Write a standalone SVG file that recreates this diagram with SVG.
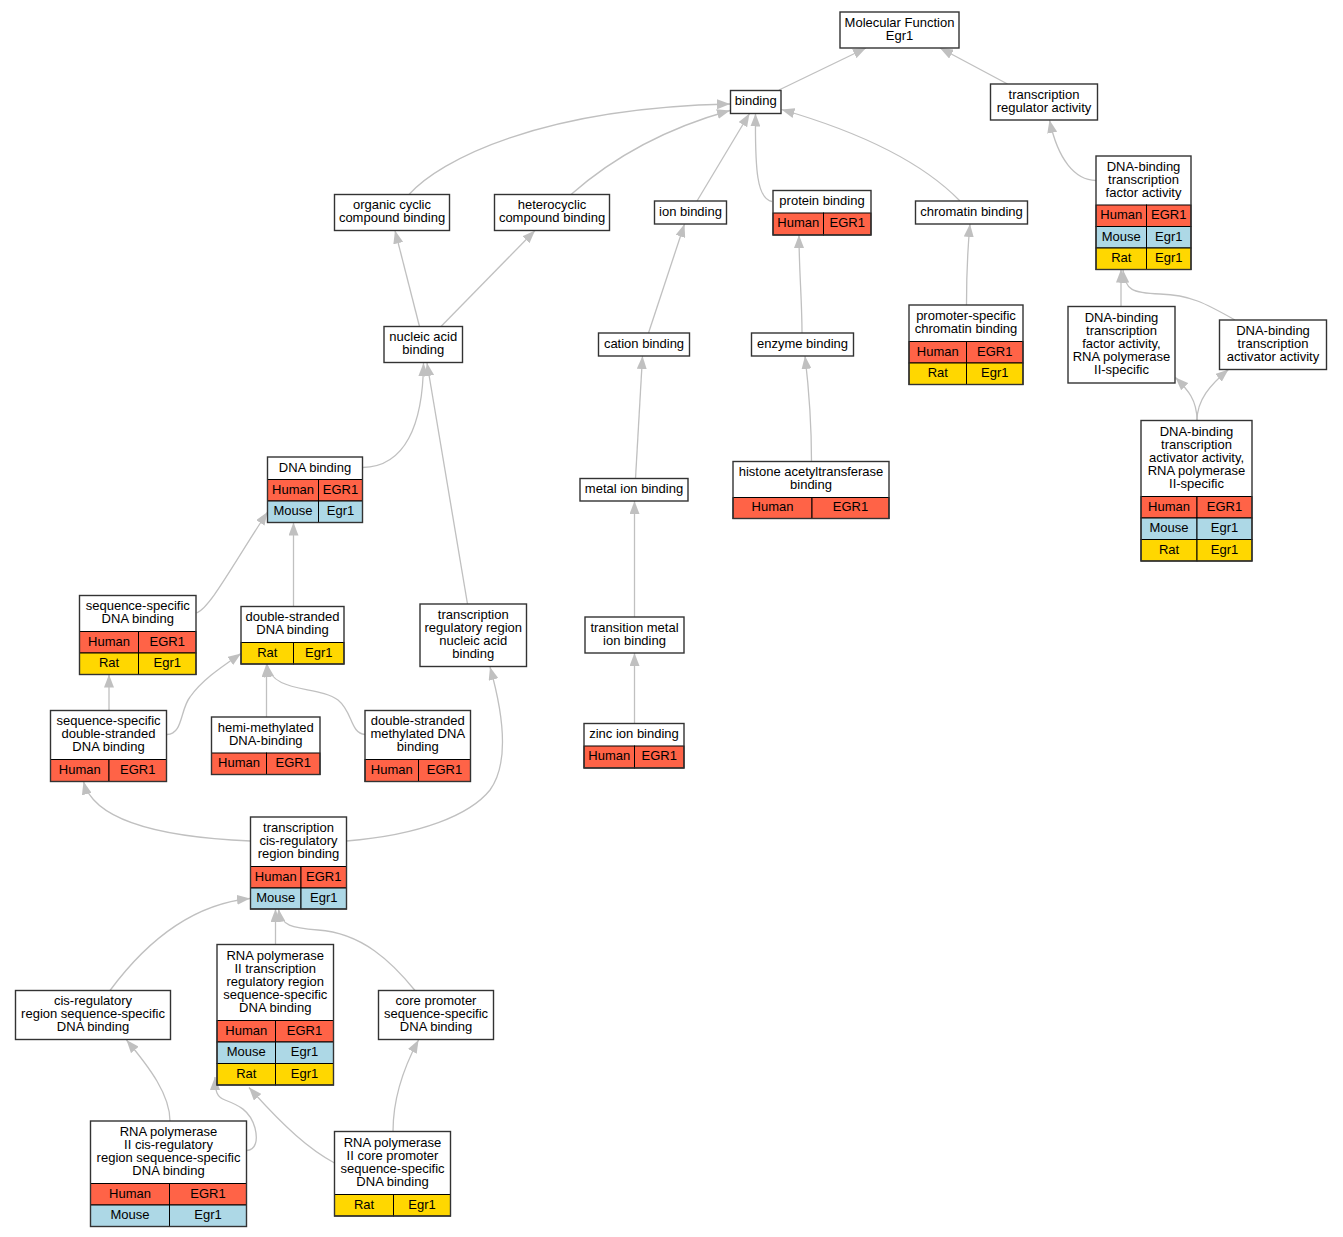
<svg xmlns="http://www.w3.org/2000/svg" width="1343" height="1237" viewBox="0 0 1343 1237">
<defs>
<style>
text{font-family:"Liberation Sans",Arial,sans-serif;font-size:13px;text-anchor:middle;fill:#000}
.bg{fill:#fff;stroke:none}
.b{fill:none;stroke:#333;stroke-width:1.4}
.w{fill:#fff;stroke:#333;stroke-width:1.4}
.hu{fill:#ff6347;stroke:#000;stroke-width:1}
.mo{fill:#add8e6;stroke:#000;stroke-width:1}
.ra{fill:#ffd700;stroke:#000;stroke-width:1}
.e path{fill:none;stroke:#c0c0c0;stroke-width:1.3;marker-end:url(#ah)}
</style>
<marker id="ah" viewBox="0 0 13 10" markerWidth="13" markerHeight="10" refX="13" refY="5" orient="auto" markerUnits="userSpaceOnUse">
<path d="M0,0 L13,5 L0,10 z" fill="#c0c0c0"/>
</marker>
</defs>
<rect x="0" y="0" width="1343" height="1237" fill="#fff"/>
<g id="edges" class="e">
<path d="M779,90 L866,48"/>
<path d="M1007.5,84 L940,48"/>
<path d="M409,194.5 C440,160 540,108 730,104"/>
<path d="M571,194.5 C610,160 660,130 730,110.5"/>
<path d="M697,201 L749.5,113.5"/>
<path d="M772,201.5 C757,199 755,170 755.5,113.5"/>
<path d="M960,201 C925,165 870,135 781.5,109.5"/>
<path d="M1096,180.5 C1075,180 1058,160 1049.5,120"/>
<path d="M419.5,326.5 L395,230.5"/>
<path d="M441,326.5 L535,230.5"/>
<path d="M648.5,333 L684.5,224"/>
<path d="M802,333 C802,300 799,270 799,235"/>
<path d="M966.5,305 C966.5,270 968,245 970,224"/>
<path d="M1121,306.5 L1121,269.5"/>
<path d="M1235,320 C1205,303 1190,295 1160,294 C1132,293 1125,290 1123,270"/>
<path d="M1197,420.5 C1197,400 1188,390 1175.5,377.5"/>
<path d="M1197,420.5 C1197,400 1210,385 1228.5,369.5"/>
<path d="M362.5,467.5 C405,467 423,425 423.5,363"/>
<path d="M467.5,604 L427,363"/>
<path d="M196.5,613 C210,608 232,566 267.5,512"/>
<path d="M293.5,606.5 L293.5,522.5"/>
<path d="M109,710.5 L109,674.5"/>
<path d="M167,734.5 C183,734 180,710 190,697 C202,680 220,668 241,653.5"/>
<path d="M266.5,717 L266.5,664"/>
<path d="M365,734.5 C350,733 353,712 338,700 C318,685 272,694 267,664"/>
<path d="M250.5,841 C180,838 95,826 83.5,781.5"/>
<path d="M346.5,841 C420,835 470,815 490,790 C508,765 505,720 490,667"/>
<path d="M110,990.5 C140,950 185,905 250,898.5"/>
<path d="M275.5,944.5 L275.5,909"/>
<path d="M415,990.5 C392,962 362,933 318,930 C292,928 281,926 278.5,909"/>
<path d="M170,1121 C170,1095 150,1068 126.5,1040"/>
<path d="M246.5,1150.5 C256,1150 258,1140 255,1128 C250,1110 238,1105 225,1100 C217,1097 215,1092 215,1077"/>
<path d="M334.5,1163 C310,1150 285,1128 249,1087.5"/>
<path d="M393,1131.5 C393,1095 405,1065 418.5,1040"/>
<path d="M635.5,478.5 L642.5,356"/>
<path d="M634.5,617 L634.5,501"/>
<path d="M634.5,723.5 L634.5,653"/>
<path d="M811.5,461.5 C811.5,420 809,390 805,356"/>
</g>

<g id="n_mf"><rect class="w" x="840" y="12" width="119" height="36"/><text x="899.5" y="26.9">Molecular Function</text><text x="899.5" y="39.9">Egr1</text></g>
<g id="n_binding"><rect class="w" x="730.5" y="90.5" width="50.5" height="23"/><text x="755.75" y="105.4">binding</text></g>
<g id="n_tra"><rect class="w" x="990.5" y="84" width="107" height="36"/><text x="1044" y="98.9">transcription</text><text x="1044" y="111.9">regulator activity</text></g>
<g id="n_occb"><rect class="w" x="334.5" y="194.5" width="115" height="36"/><text x="392" y="209.4">organic cyclic</text><text x="392" y="222.4">compound binding</text></g>
<g id="n_hcb"><rect class="w" x="494.5" y="194.5" width="115" height="36"/><text x="552" y="209.4">heterocyclic</text><text x="552" y="222.4">compound binding</text></g>
<g id="n_ion"><rect class="w" x="654.5" y="201" width="72" height="23"/><text x="690.5" y="215.9">ion binding</text></g>
<g id="n_protein"><rect class="bg" x="773" y="190.5" width="98" height="44.5"/><text x="822" y="205.2">protein binding</text>
<rect class="hu" x="773" y="213" width="50.5" height="22"/><rect class="hu" x="823.5" y="213" width="47.5" height="22"/>
<text x="798.25" y="227.4">Human</text><text x="847.25" y="227.4">EGR1</text><rect class="b" x="773" y="190.5" width="98" height="44.5"/></g>
<g id="n_chromatin"><rect class="w" x="915.5" y="201" width="112" height="23"/><text x="971.5" y="215.9">chromatin binding</text></g>
<g id="n_dbtfa"><rect class="bg" x="1096" y="156" width="95" height="113.5"/><text x="1143.5" y="170.9">DNA-binding</text><text x="1143.5" y="183.9">transcription</text><text x="1143.5" y="196.9">factor activity</text>
<rect class="hu" x="1096" y="205" width="50.5" height="21.5"/><rect class="hu" x="1146.5" y="205" width="44.5" height="21.5"/>
<rect class="mo" x="1096" y="226.5" width="50.5" height="21.5"/><rect class="mo" x="1146.5" y="226.5" width="44.5" height="21.5"/>
<rect class="ra" x="1096" y="248" width="50.5" height="21.5"/><rect class="ra" x="1146.5" y="248" width="44.5" height="21.5"/>
<text x="1121.25" y="219.2">Human</text><text x="1168.75" y="219.2">EGR1</text>
<text x="1121.25" y="240.7">Mouse</text><text x="1168.75" y="240.7">Egr1</text>
<text x="1121.25" y="262.2">Rat</text><text x="1168.75" y="262.2">Egr1</text>
<rect class="b" x="1096" y="156" width="95" height="113.5"/></g>
<g id="n_nab"><rect class="w" x="384" y="326.5" width="78.5" height="36"/><text x="423.25" y="341.4">nucleic acid</text><text x="423.25" y="354.4">binding</text></g>
<g id="n_cation"><rect class="w" x="598.5" y="333" width="91" height="23"/><text x="644" y="347.9">cation binding</text></g>
<g id="n_enzyme"><rect class="w" x="751.5" y="333" width="102" height="23"/><text x="802.5" y="347.9">enzyme binding</text></g>
<g id="n_pscb"><rect class="bg" x="909" y="305" width="114" height="79.5"/><text x="966" y="320.2">promoter-specific</text><text x="966" y="333.2">chromatin binding</text>
<rect class="hu" x="909" y="341.5" width="57.5" height="21.5"/><rect class="hu" x="966.5" y="341.5" width="56.5" height="21.5"/>
<rect class="ra" x="909" y="363" width="57.5" height="21.5"/><rect class="ra" x="966.5" y="363" width="56.5" height="21.5"/>
<text x="937.75" y="355.7">Human</text><text x="994.75" y="355.7">EGR1</text>
<text x="937.75" y="377.2">Rat</text><text x="994.75" y="377.2">Egr1</text>
<rect class="b" x="909" y="305" width="114" height="79.5"/></g>
<g id="n_dbtfa2"><rect class="w" x="1068" y="306.5" width="107" height="76.5"/><text x="1121.5" y="322.2">DNA-binding</text><text x="1121.5" y="335.2">transcription</text><text x="1121.5" y="348.2">factor activity,</text><text x="1121.5" y="361.2">RNA polymerase</text><text x="1121.5" y="374.2">II-specific</text></g>
<g id="n_dbtaa"><rect class="w" x="1219.5" y="320" width="107" height="49.5"/><text x="1273" y="335.2">DNA-binding</text><text x="1273" y="348.2">transcription</text><text x="1273" y="361.2">activator activity</text></g>
<g id="n_dbtaa2"><rect class="bg" x="1141" y="420.5" width="111" height="140.5"/><text x="1196.5" y="435.9">DNA-binding</text><text x="1196.5" y="448.9">transcription</text><text x="1196.5" y="461.9">activator activity,</text><text x="1196.5" y="474.9">RNA polymerase</text><text x="1196.5" y="487.9">II-specific</text>
<rect class="hu" x="1141" y="496.5" width="56" height="21.5"/><rect class="hu" x="1197" y="496.5" width="55" height="21.5"/>
<rect class="mo" x="1141" y="518" width="56" height="21.5"/><rect class="mo" x="1197" y="518" width="55" height="21.5"/>
<rect class="ra" x="1141" y="539.5" width="56" height="21.5"/><rect class="ra" x="1197" y="539.5" width="55" height="21.5"/>
<text x="1169" y="510.7">Human</text><text x="1224.5" y="510.7">EGR1</text>
<text x="1169" y="532.2">Mouse</text><text x="1224.5" y="532.2">Egr1</text>
<text x="1169" y="553.7">Rat</text><text x="1224.5" y="553.7">Egr1</text>
<rect class="b" x="1141" y="420.5" width="111" height="140.5"/></g>
<g id="n_dna"><rect class="bg" x="267.5" y="457" width="95" height="65.5"/><text x="315" y="471.6">DNA binding</text>
<rect class="hu" x="267.5" y="479.5" width="51" height="21.5"/><rect class="hu" x="318.5" y="479.5" width="44" height="21.5"/>
<rect class="mo" x="267.5" y="501" width="51" height="21.5"/><rect class="mo" x="318.5" y="501" width="44" height="21.5"/>
<text x="293" y="493.7">Human</text><text x="340.5" y="493.7">EGR1</text>
<text x="293" y="515.2">Mouse</text><text x="340.5" y="515.2">Egr1</text>
<rect class="b" x="267.5" y="457" width="95" height="65.5"/></g>
<g id="n_ssdna"><rect class="bg" x="79.5" y="595.5" width="116.5" height="79"/><text x="137.75" y="610.4">sequence-specific</text><text x="137.75" y="623.4">DNA binding</text>
<rect class="hu" x="79.5" y="631.5" width="59" height="21.5"/><rect class="hu" x="138.5" y="631.5" width="57.5" height="21.5"/>
<rect class="ra" x="79.5" y="653" width="59" height="21.5"/><rect class="ra" x="138.5" y="653" width="57.5" height="21.5"/>
<text x="109" y="645.7">Human</text><text x="167.25" y="645.7">EGR1</text>
<text x="109" y="667.2">Rat</text><text x="167.25" y="667.2">Egr1</text>
<rect class="b" x="79.5" y="595.5" width="116.5" height="79"/></g>
<g id="n_dsdna"><rect class="bg" x="241" y="606.5" width="103" height="57.5"/><text x="292.5" y="621.4">double-stranded</text><text x="292.5" y="634.4">DNA binding</text>
<rect class="ra" x="241" y="642.5" width="52.5" height="21.5"/><rect class="ra" x="293.5" y="642.5" width="50.5" height="21.5"/>
<text x="267.25" y="656.7">Rat</text><text x="318.75" y="656.7">Egr1</text>
<rect class="b" x="241" y="606.5" width="103" height="57.5"/></g>
<g id="n_trrnab"><rect class="w" x="420" y="604" width="106.5" height="62.5"/><text x="473.25" y="619.2">transcription</text><text x="473.25" y="632.2">regulatory region</text><text x="473.25" y="645.2">nucleic acid</text><text x="473.25" y="658.2">binding</text></g>
<g id="n_ssdsdna"><rect class="bg" x="50.5" y="710.5" width="116" height="71"/><text x="108.5" y="725.4">sequence-specific</text><text x="108.5" y="738.4">double-stranded</text><text x="108.5" y="751.4">DNA binding</text>
<rect class="hu" x="50.5" y="759.5" width="58.5" height="22"/><rect class="hu" x="109" y="759.5" width="57.5" height="22"/>
<text x="79.75" y="774">Human</text><text x="137.75" y="774">EGR1</text>
<rect class="b" x="50.5" y="710.5" width="116" height="71"/></g>
<g id="n_hemi"><rect class="bg" x="211.5" y="717" width="108.5" height="57.5"/><text x="265.75" y="731.9">hemi-methylated</text><text x="265.75" y="744.9">DNA-binding</text>
<rect class="hu" x="211.5" y="753" width="55" height="21.5"/><rect class="hu" x="266.5" y="753" width="53.5" height="21.5"/>
<text x="239" y="767.2">Human</text><text x="293.25" y="767.2">EGR1</text>
<rect class="b" x="211.5" y="717" width="108.5" height="57.5"/></g>
<g id="n_dsmdna"><rect class="bg" x="365" y="710.5" width="105.5" height="71"/><text x="417.75" y="725.4">double-stranded</text><text x="417.75" y="738.4">methylated DNA</text><text x="417.75" y="751.4">binding</text>
<rect class="hu" x="365" y="759.5" width="53.5" height="22"/><rect class="hu" x="418.5" y="759.5" width="52" height="22"/>
<text x="391.75" y="774">Human</text><text x="444.5" y="774">EGR1</text>
<rect class="b" x="365" y="710.5" width="105.5" height="71"/></g>
<g id="n_metal"><rect class="w" x="580" y="478.5" width="108" height="22.5"/><text x="634" y="493.2">metal ion binding</text></g>
<g id="n_hat"><rect class="bg" x="733" y="461.5" width="156" height="57"/><text x="811" y="476.4">histone acetyltransferase</text><text x="811" y="489.4">binding</text>
<rect class="hu" x="733" y="497.5" width="79" height="21"/><rect class="hu" x="812" y="497.5" width="77" height="21"/>
<text x="772.5" y="511.4">Human</text><text x="850.5" y="511.4">EGR1</text>
<rect class="b" x="733" y="461.5" width="156" height="57"/></g>
<g id="n_tmib"><rect class="w" x="585" y="617" width="99" height="36"/><text x="634.5" y="631.9">transition metal</text><text x="634.5" y="644.9">ion binding</text></g>
<g id="n_zinc"><rect class="bg" x="584" y="723.5" width="100" height="44.5"/><text x="634" y="738.2">zinc ion binding</text>
<rect class="hu" x="584" y="746" width="50.5" height="22"/><rect class="hu" x="634.5" y="746" width="49.5" height="22"/>
<text x="609.25" y="760.4">Human</text><text x="659.25" y="760.4">EGR1</text>
<rect class="b" x="584" y="723.5" width="100" height="44.5"/></g>
<g id="n_tcrrb"><rect class="bg" x="250.5" y="817" width="96" height="92"/><text x="298.5" y="832.2">transcription</text><text x="298.5" y="845.2">cis-regulatory</text><text x="298.5" y="858.2">region binding</text>
<rect class="hu" x="250.5" y="866.5" width="50.5" height="21.5"/><rect class="hu" x="301" y="866.5" width="45.5" height="21.5"/>
<rect class="mo" x="250.5" y="888" width="50.5" height="21"/><rect class="mo" x="301" y="888" width="45.5" height="21"/>
<text x="275.75" y="880.7">Human</text><text x="323.75" y="880.7">EGR1</text>
<text x="275.75" y="901.9">Mouse</text><text x="323.75" y="901.9">Egr1</text>
<rect class="b" x="250.5" y="817" width="96" height="92"/></g>
<g id="n_crrss"><rect class="w" x="15.5" y="990.5" width="155" height="49"/><text x="93" y="1005.4">cis-regulatory</text><text x="93" y="1018.4">region sequence-specific</text><text x="93" y="1031.4">DNA binding</text></g>
<g id="n_rp2trr"><rect class="bg" x="217" y="944.5" width="116.5" height="140.5"/><text x="275.25" y="959.9">RNA polymerase</text><text x="275.25" y="972.9">II transcription</text><text x="275.25" y="985.9">regulatory region</text><text x="275.25" y="998.9">sequence-specific</text><text x="275.25" y="1011.9">DNA binding</text>
<rect class="hu" x="217" y="1020.5" width="58.5" height="21.5"/><rect class="hu" x="275.5" y="1020.5" width="58" height="21.5"/>
<rect class="mo" x="217" y="1042" width="58.5" height="21.5"/><rect class="mo" x="275.5" y="1042" width="58" height="21.5"/>
<rect class="ra" x="217" y="1063.5" width="58.5" height="21.5"/><rect class="ra" x="275.5" y="1063.5" width="58" height="21.5"/>
<text x="246.25" y="1034.7">Human</text><text x="304.5" y="1034.7">EGR1</text>
<text x="246.25" y="1056.2">Mouse</text><text x="304.5" y="1056.2">Egr1</text>
<text x="246.25" y="1077.7">Rat</text><text x="304.5" y="1077.7">Egr1</text>
<rect class="b" x="217" y="944.5" width="116.5" height="140.5"/></g>
<g id="n_cpss"><rect class="w" x="378.5" y="990.5" width="115" height="49"/><text x="436" y="1005.4">core promoter</text><text x="436" y="1018.4">sequence-specific</text><text x="436" y="1031.4">DNA binding</text></g>
<g id="n_rp2crr"><rect class="bg" x="90.5" y="1121" width="156" height="105.5"/><text x="168.5" y="1136.2">RNA polymerase</text><text x="168.5" y="1149.2">II cis-regulatory</text><text x="168.5" y="1162.2">region sequence-specific</text><text x="168.5" y="1175.2">DNA binding</text>
<rect class="hu" x="90.5" y="1183.5" width="79" height="21.5"/><rect class="hu" x="169.5" y="1183.5" width="77" height="21.5"/>
<rect class="mo" x="90.5" y="1205" width="79" height="21.5"/><rect class="mo" x="169.5" y="1205" width="77" height="21.5"/>
<text x="130" y="1197.7">Human</text><text x="208" y="1197.7">EGR1</text>
<text x="130" y="1219.2">Mouse</text><text x="208" y="1219.2">Egr1</text>
<rect class="b" x="90.5" y="1121" width="156" height="105.5"/></g>
<g id="n_rp2cp"><rect class="bg" x="334.5" y="1131.5" width="116" height="84.5"/><text x="392.5" y="1146.9">RNA polymerase</text><text x="392.5" y="1159.9">II core promoter</text><text x="392.5" y="1172.9">sequence-specific</text><text x="392.5" y="1185.9">DNA binding</text>
<rect class="ra" x="334.5" y="1194.5" width="59" height="21.5"/><rect class="ra" x="393.5" y="1194.5" width="57" height="21.5"/>
<text x="364" y="1208.7">Rat</text><text x="422" y="1208.7">Egr1</text>
<rect class="b" x="334.5" y="1131.5" width="116" height="84.5"/></g>
</svg>
